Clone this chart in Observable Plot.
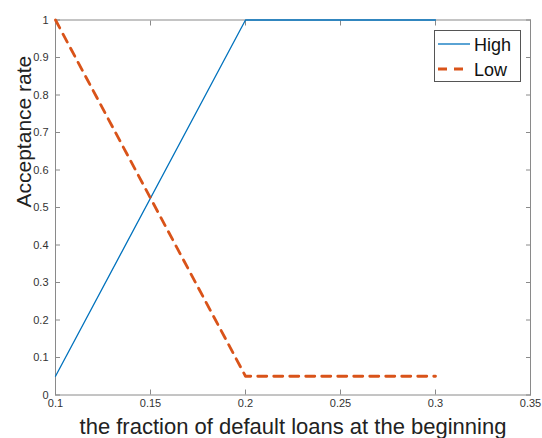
<!DOCTYPE html>
<html><head><meta charset="utf-8">
<script src="https://cdn.jsdelivr.net/npm/d3@7"></script>
<script src="https://cdn.jsdelivr.net/npm/@observablehq/plot@0.6"></script>
<style>body{margin:0;background:#fff;} #chart svg{display:block;}</style>
</head><body><div id="chart"></div>
<script>
const xValues = [0.1, 0.2, 0.3];
const highValues = [0.05, 1, 1];
const lowValues = [1, 0.05, 0.05];
const seriesNames = ["High", "Low"];
const seriesColors = ["#0072BD", "#D95319"];
const xTicks = [0.1, 0.15, 0.2, 0.25, 0.3, 0.35];
const xTickLabels = ["0.1", "0.15", "0.2", "0.25", "0.3", "0.35"];
const yTicks = [0, 0.1, 0.2, 0.3, 0.4, 0.5, 0.6, 0.7, 0.8, 0.9, 1];
const yTickLabels = ["0", "0.1", "0.2", "0.3", "0.4", "0.5", "0.6", "0.7", "0.8", "0.9", "1"];
const xLabel = "the fraction of default loans at the beginning";
const yLabel = "Acceptance rate";

const highRows = xValues.map((x, i) => ({x, y: highValues[i]}));
const lowRows = xValues.map((x, i) => ({x, y: lowValues[i]}));

const frameColor = "#8a8a8a";
const textColor = "#333";

const plot = Plot.plot({
  width: 542,
  height: 438,
  marginLeft: 55,
  marginRight: 12,
  marginTop: 19.5,
  marginBottom: 43.5,
  style: {fontFamily: "'Liberation Sans', Arial, sans-serif", fontSize: "11px", color: textColor, background: "#fff"},
  x: {domain: [0.1, 0.35]},
  y: {domain: [0, 1]},
  marks: [
    Plot.frame({stroke: frameColor}),
    Plot.axisX({ticks: xTicks, tickSize: -5, stroke: frameColor, tickPadding: 9, tickFormat: (d, i) => xTickLabels[i], label: null, fill: textColor}),
    Plot.axisX({anchor: "top", ticks: xTicks, tickSize: -5, stroke: frameColor, text: null, label: null}),
    Plot.axisY({ticks: yTicks, tickSize: -5, stroke: frameColor, tickPadding: 12, tickFormat: (d, i) => yTickLabels[i], label: null, fill: textColor}),
    Plot.axisY({anchor: "right", ticks: yTicks, tickSize: -5, stroke: frameColor, text: null, label: null}),
    Plot.line(highRows, {x: "x", y: "y", stroke: seriesColors[0], strokeWidth: 1.3}),
    Plot.line(lowRows, {x: "x", y: "y", stroke: seriesColors[1], strokeWidth: 2.8, strokeDasharray: "9,7"}),
    Plot.text([xLabel], {frameAnchor: "bottom", dy: 39, fontSize: 22, fill: "#222", lineAnchor: "bottom"}),
    Plot.text([yLabel], {frameAnchor: "left", dx: -31, rotate: -90, fontSize: 21, fill: "#222"})
  ]
});

const svg = d3.select(plot);
const lg = svg.append("g").attr("font-family", "'Liberation Sans', Arial, sans-serif").attr("text-anchor", "start");
lg.append("rect").attr("x", 434.5).attr("y", 30.5).attr("width", 86).attr("height", 51)
  .attr("fill", "#fff").attr("stroke", "#555").attr("stroke-width", 1);
seriesNames.forEach((name, i) => {
  const cy = 44 + i * 25;
  lg.append("line").attr("x1", 438).attr("x2", 470).attr("y1", cy).attr("y2", cy)
    .attr("stroke", seriesColors[i]).attr("stroke-width", i === 0 ? 1.3 : 2.8)
    .attr("stroke-dasharray", i === 0 ? null : "9,7");
  lg.append("text").attr("x", 474).attr("y", cy + 6.5).attr("font-size", 18)
    .attr("text-anchor", "start").attr("fill", "#111").text(name);
});

document.getElementById("chart").appendChild(plot);
</script>
</body></html>
